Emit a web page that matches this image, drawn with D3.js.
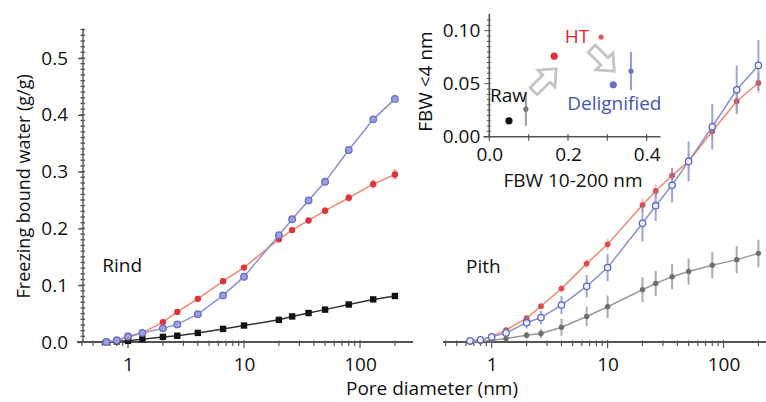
<!DOCTYPE html>
<html><head><meta charset="utf-8">
<script src="https://cdn.jsdelivr.net/npm/d3@7"></script>
<style>
html,body{margin:0;padding:0;background:#fff;}
svg{display:block;font-family:"Open Sans",sans-serif;}
</style></head>
<body><svg id="c" width="766" height="402"></svg>
<script>
// ---- data ----
const diam = [0.65,0.8,1,1.33,2,2.66,4,6.6,10,20,26,36,50,80,130,200];
// Rind
const rindRaw   = [0,0.001,0.002,0.005,0.009,0.011,0.016,0.023,0.029,0.039,0.045,0.051,0.057,0.066,0.075,0.081];
const rindHT    = [0,0.003,0.008,0.016,0.035,0.053,0.076,0.107,0.131,0.181,0.197,0.214,0.231,0.254,0.278,0.295];
const rindHTErr = [0,0,0,0,0.002,0.002,0.003,0.003,0.004,0.005,0.005,0.005,0.006,0.007,0.008,0.009];
const rindDelig = [0,0.003,0.010,0.016,0.024,0.031,0.049,0.082,0.115,0.188,0.216,0.249,0.282,0.338,0.392,0.428];
// Pith
const pithRaw      = [0,0.001,0.003,0.006,0.012,0.015,0.026,0.045,0.062,0.092,0.103,0.115,0.124,0.135,0.145,0.156];
const pithRawErr   = [0,0,0.002,0.004,0.006,0.008,0.015,0.017,0.020,0.022,0.022,0.022,0.023,0.023,0.024,0.024];
const pithHT       = [0,0.003,0.010,0.021,0.042,0.063,0.094,0.138,0.172,0.241,0.266,0.293,0.318,0.371,0.424,0.456];
const pithHTErr    = [0,0,0.002,0.003,0.004,0.005,0.006,0.008,0.010,0.012,0.012,0.013,0.014,0.016,0.017,0.018];
const pithDelig    = [0.002,0.004,0.009,0.016,0.034,0.043,0.065,0.098,0.131,0.209,0.240,0.276,0.318,0.379,0.444,0.487];
const pithDeligErr = [0,0,0.003,0.005,0.010,0.012,0.016,0.020,0.024,0.032,0.027,0.030,0.035,0.040,0.043,0.045];
// Inset
const insetNames = ["Raw","HT","Delignified"];
const insetRindX = [0.050,0.165,0.315];
const insetRindY = [0.015,0.076,0.049];
const insetPithX = [0.093,0.284,0.360];
const insetPithY = [0.026,0.094,0.062];
const insetPithErr = [0.016,0.002,0.018];
const insetLabelX = [0.002,0.192,0.198];
const insetLabelY = [0.033,0.0887,0.025];
const arrowX = [0.1415,0.289];
const arrowY = [0.0535,0.0724];
const arrowAngle = [-45,45];
// ticks
const yTicks = [0,0.1,0.2,0.3,0.4,0.5];
const xTicks = [1,10,100];
const insetYTicks = [0,0.05,0.10];
const insetXTicks = [0,0.2,0.4];

// ---- layout ----
const svg = d3.select("#c");
const FS = 19;
const AX = "#555";
const y = d3.scaleLinear().domain([0,0.5]).range([342,58]);
const xL = d3.scaleLog().domain([1,100]).range([128,360]);
const xR = d3.scaleLog().domain([1,100]).range([491.7,723.5]);
const xI = d3.scaleLinear().domain([0,0.4]).range([489.3,646.7]);
const yI = d3.scaleLinear().domain([0,0.1]).range([136.7,30.7]);

const col = {
  red:"#e0323a", redLine:"#ef8a72",
  blue:"#6a70c4", blueFill:"#9aa0dc", blueLine:"#8c90cc",
  black:"#111", blackLine:"#333",
  gray:"#6e6e6e", grayLine:"#9a9a9a"
};

function logTicks(lo, hi){
  const out=[];
  for(let e=-1;e<=3;e++){for(let m=1;m<10;m++){const v=m*Math.pow(10,e); if(v>=lo&&v<=hi) out.push(v);}}
  return out;
}

// ---- left y axis ----
const yAxisG = svg.append("g").attr("transform","translate(83,0)");
yAxisG.append("line").attr("x1",0).attr("x2",0).attr("y1",y(0)).attr("y2",y(0.552)).attr("stroke",AX).attr("stroke-width",1.6);
d3.range(0,0.551,0.01).forEach(v=>{
  yAxisG.append("line").attr("x1",-2.5).attr("x2",2).attr("y1",y(v)).attr("y2",y(v)).attr("stroke",AX).attr("stroke-width",1);
});
yAxisG.call(d3.axisLeft(y).tickValues(yTicks).tickFormat(d3.format(".1f")).tickSize(5).tickPadding(10))
  .call(g=>g.select(".domain").remove())
  .call(g=>g.selectAll("line").attr("stroke",AX).attr("stroke-width",1.4))
  .call(g=>g.selectAll("text").attr("font-size",FS).attr("font-family","Open Sans").attr("fill","#111"));

svg.append("text").attr("transform","translate(30,"+y(0.274)+") rotate(-90)")
  .attr("text-anchor","middle").attr("font-size",18).attr("fill","#111").text("Freezing bound water (g/g)");

// ---- x axes ----
function xAxis(x, x0, x1){
  const g = svg.append("g").attr("transform","translate(0,"+y(0)+")");
  g.append("line").attr("x1",x0).attr("x2",x1).attr("y1",0).attr("y2",0).attr("stroke",AX).attr("stroke-width",1.8);
  logTicks(x.invert(x0), x.invert(x1)).forEach(v=>{
    const major = xTicks.includes(v);
    g.append("line").attr("x1",x(v)).attr("x2",x(v)).attr("y1",major?-2:-1.5).attr("y2",major?6:4).attr("stroke",AX).attr("stroke-width",1.2);
  });
  g.call(d3.axisBottom(x).tickValues(xTicks).tickFormat(d3.format("d")).tickSize(0).tickPadding(16))
    .call(gg=>gg.select(".domain").remove())
    .call(gg=>gg.selectAll("text").attr("font-size",FS).attr("font-family","Open Sans").attr("fill","#111"));
}
xAxis(xL, 77, 413);
xAxis(xR, 443, 766);

svg.append("text").attr("x",432).attr("y",395).attr("text-anchor","middle").attr("font-size",FS).attr("fill","#111").text("Pore diameter (nm)");

// ---- series drawing ----
function drawSeries(x, vals, errs, o){
  const pts = diam.map((d,i)=>({d, v:vals[i], e: errs?errs[i]:0}));
  const line = d3.line().x(p=>x(p.d)).y(p=>y(p.v));
  svg.append("path").attr("d",line(pts)).attr("fill","none").attr("stroke",o.line).attr("stroke-width",o.lw||1.5);
  if(errs){
    svg.append("g").selectAll("line").data(pts.filter(p=>p.e>0)).join("line")
      .attr("x1",p=>x(p.d)).attr("x2",p=>x(p.d))
      .attr("y1",p=>y(p.v-p.e)).attr("y2",p=>y(p.v+p.e))
      .attr("stroke",o.err).attr("stroke-width",o.ew||2).attr("opacity",o.eo||0.8);
  }
  const g = svg.append("g");
  if(o.shape==="square"){
    g.selectAll("rect").data(pts).join("rect")
      .attr("x",p=>x(p.d)-3.2).attr("y",p=>y(p.v)-3.2).attr("width",6.4).attr("height",6.4)
      .attr("fill",o.fill).attr("stroke",o.stroke||"none");
  } else {
    g.selectAll("circle").data(pts).join("circle")
      .attr("cx",p=>x(p.d)).attr("cy",p=>y(p.v)).attr("r",o.r||3.5)
      .attr("fill",o.fill).attr("stroke",o.stroke||"none").attr("stroke-width",o.sw||1.2);
  }
}

// Rind
drawSeries(xL, rindRaw, null, {line:col.blackLine, fill:col.black, shape:"square"});
drawSeries(xL, rindHT, rindHTErr, {line:col.redLine, fill:col.red, err:"#f08a8a", ew:3, eo:0.7, r:3.2});
drawSeries(xL, rindDelig, null, {line:col.blueLine, fill:col.blueFill, stroke:col.blue, sw:1.3, r:3.3});

// Pith
drawSeries(xR, pithRaw, pithRawErr, {line:col.grayLine, fill:col.gray, err:"#8a8a8a", ew:2, eo:0.7, r:2.7});
drawSeries(xR, pithHT, pithHTErr, {line:col.redLine, fill:"#e24a4a", err:"#f09a9a", ew:2, eo:0.6, r:2.9});
drawSeries(xR, pithDelig, pithDeligErr, {line:col.blueLine, fill:"#eceefa", stroke:"#5b68c0", sw:1.3, err:"#7f86c8", ew:2, eo:0.75, r:3.2});

svg.append("text").attr("x",xL(0.6)).attr("y",y(0.124)).attr("font-size",FS).attr("fill","#111").text("Rind");
svg.append("text").attr("x",xR(0.6)).attr("y",y(0.122)).attr("font-size",FS).attr("fill","#111").text("Pith");

// ---- inset ----
const ig = svg.append("g");
ig.append("line").attr("x1",xI(0)).attr("x2",xI(0)).attr("y1",yI(0)).attr("y2",yI(0.116)).attr("stroke",AX).attr("stroke-width",1.6);
ig.append("line").attr("x1",xI(-0.015)).attr("x2",xI(0.435)).attr("y1",yI(0)).attr("y2",yI(0)).attr("stroke",AX).attr("stroke-width",1.6);
d3.range(0,23).forEach(k=>{
  const v = k*0.005;
  const major = k%10===0;
  ig.append("line").attr("x1",xI(0)-(major?5:2.5)).attr("x2",xI(0)+1.5).attr("y1",yI(v)).attr("y2",yI(v)).attr("stroke",AX).attr("stroke-width",1);
});
[0,0.1,0.2,0.3,0.4].forEach(v=>{
  ig.append("line").attr("x1",xI(v)).attr("x2",xI(v)).attr("y1",yI(0)-2.5).attr("y2",yI(0)+4).attr("stroke",AX).attr("stroke-width",1.2);
});
ig.append("g").attr("transform","translate("+xI(0)+",0)")
  .call(d3.axisLeft(yI).tickValues(insetYTicks).tickFormat(d3.format(".2f")).tickSize(0).tickPadding(9))
  .call(g=>g.select(".domain").remove())
  .call(g=>g.selectAll("text").attr("font-size",FS).attr("font-family","Open Sans").attr("fill","#111"));
ig.append("g").attr("transform","translate(0,"+yI(0)+")")
  .call(d3.axisBottom(xI).tickValues(insetXTicks).tickFormat(d3.format(".1f")).tickSize(0).tickPadding(11))
  .call(g=>g.select(".domain").remove())
  .call(g=>g.selectAll("text").attr("font-size",FS).attr("font-family","Open Sans").attr("fill","#111"));
ig.append("text").attr("transform","translate(432,"+yI(0.052)+") rotate(-90)").attr("text-anchor","middle")
  .attr("font-size",FS).attr("fill","#111").text("FBW <4 nm");
ig.append("text").attr("x",573).attr("y",187).attr("text-anchor","middle").attr("font-size",FS).attr("fill","#111").text("FBW 10-200 nm");

// arrows
const arrowShape = "M-16,-5 L2,-5 L2,-12 L16,0 L2,12 L2,5 L-16,5 Z";
arrowX.forEach((ax,i)=>{
  ig.append("path").attr("d",arrowShape)
    .attr("transform","translate("+xI(ax)+","+yI(arrowY[i])+") rotate("+arrowAngle[i]+")")
    .attr("fill","#fff").attr("stroke","#c4c4c4").attr("stroke-width",2.8).attr("stroke-linejoin","miter");
});

const insetCols = ["#111","#e0323a","#6a70c4"];
const insetPithCols = ["#777","#e65a5a","#6a70c4"];
const insetLabelCols = ["#111","#e8262c","#3f55b0"];
insetNames.forEach((n,i)=>{
  if(insetPithErr[i]>0.003){
    ig.append("line").attr("x1",xI(insetPithX[i])).attr("x2",xI(insetPithX[i]))
      .attr("y1",yI(insetPithY[i]-insetPithErr[i])).attr("y2",yI(insetPithY[i]+insetPithErr[i]))
      .attr("stroke",insetPithCols[i]).attr("stroke-width",2).attr("opacity",0.7);
  }
  ig.append("circle").attr("cx",xI(insetPithX[i])).attr("cy",yI(insetPithY[i])).attr("r",2.6).attr("fill",insetPithCols[i]);
  ig.append("circle").attr("cx",xI(insetRindX[i])).attr("cy",yI(insetRindY[i])).attr("r",3.6).attr("fill",insetCols[i]);
  ig.append("text").attr("x",xI(insetLabelX[i])).attr("y",yI(insetLabelY[i])).attr("font-size",FS)
    .attr("fill",insetLabelCols[i]).text(n);
});
</script></body></html>
